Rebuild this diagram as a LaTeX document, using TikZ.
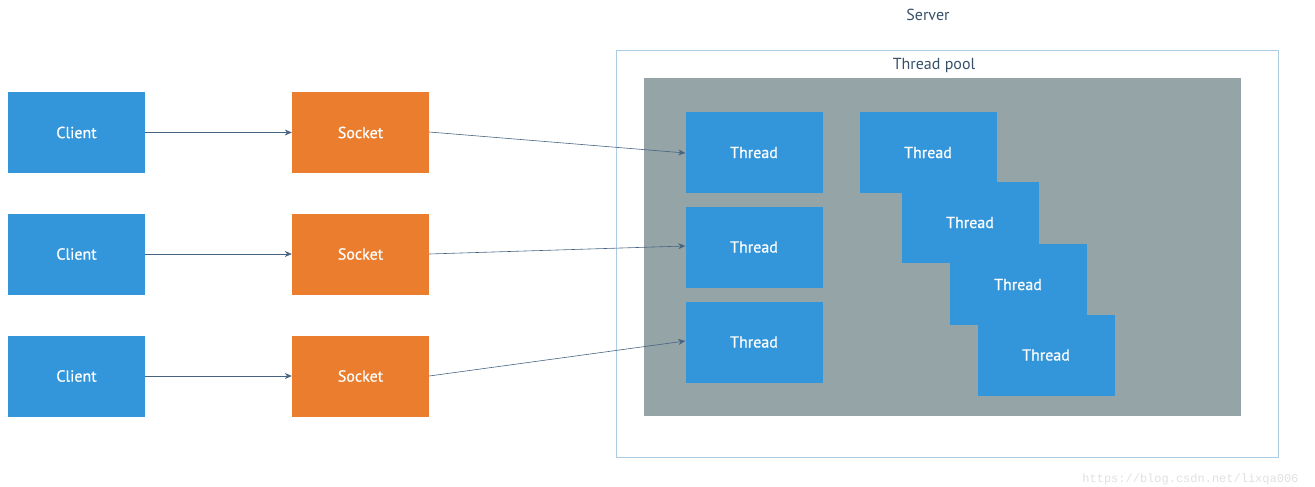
\documentclass[tikz,border=0pt]{standalone}
\usepackage{fontspec}
\setmainfont{PT Sans}
\setmonofont{Liberation Mono}
\newfontfamily\boxfont[FakeBold=0.6]{PT Sans}
\usetikzlibrary{arrows.meta}
\definecolor{boxblue}{RGB}{52,150,218}
\definecolor{boxorange}{RGB}{234,125,46}
\definecolor{poolgray}{RGB}{149,164,166}
\definecolor{serverline}{RGB}{170,205,228}
\definecolor{linkcol}{RGB}{70,100,130}
\definecolor{labelcol}{RGB}{55,80,105}
\tikzset{
  unit/.style={minimum width=137pt, minimum height=81pt, inner sep=0pt,
    text=white, font=\boxfont\fontsize{16}{18}\selectfont},
  client/.style={unit, fill=boxblue},
  socketbox/.style={unit, fill=boxorange},
  thread/.style={unit, fill=boxblue},
  link/.style={draw=linkcol, line width=0.6pt, -{Stealth[length=7pt,width=6pt]}},
  caption/.style={text=labelcol, font=\fontsize{16}{18}\selectfont}
}
\begin{document}
\begin{tikzpicture}[x=1pt,y=-1pt]
\useasboundingbox (0,0) rectangle (1315,487);

% server frame and thread pool
\draw[serverline, line width=1pt] (616.5,50.5) rectangle (1278.5,457.5);
\node[caption] (server) at (928,15) {Server};
\fill[poolgray] (644,78) rectangle (1241,416);
\node[caption] (pool) at (934,66) {Thread pool};

% clients
\node[client] (c1) at (76.5,132.5) {Client};
\node[client] (c2) at (76.5,254) {Client};
\node[client] (c3) at (76.5,376) {Client};

% sockets
\node[socketbox] (s1) at (360.5,132.5) {Socket};
\node[socketbox] (s2) at (360.5,254) {Socket};
\node[socketbox] (s3) at (360.5,376) {Socket};

% threads serving connections
\node[thread] (t1) at (754,152.5) {Thread};
\node[thread] (t2) at (754,247) {Thread};
\node[thread] (t3) at (754,342) {Thread};

% idle threads, stacked
\node[thread] (p1) at (928,152.5) {Thread};
\node[thread] (p2) at (970,222.5) {Thread};
\node[thread] (p3) at (1018,284.5) {Thread};
\node[thread] (p4) at (1046,355) {Thread};

% connections
\draw[link] (c1) -- (s1);
\draw[link] (c2) -- (s2);
\draw[link] (c3) -- (s3);
\draw[link] (s1.east |- 0,132) -- (t1.west |- 0,153);
\draw[link] (s2.east |- 0,254) -- (t2.west |- 0,246);
\draw[link] (s3.east |- 0,376) -- (t3.west |- 0,341);

% watermark
\node[text=black!12, font=\ttfamily\fontsize{12}{14}\selectfont, anchor=east] (wm) at (1302,479) {https://blog.csdn.net/lixqa006};
\end{tikzpicture}
\end{document}
